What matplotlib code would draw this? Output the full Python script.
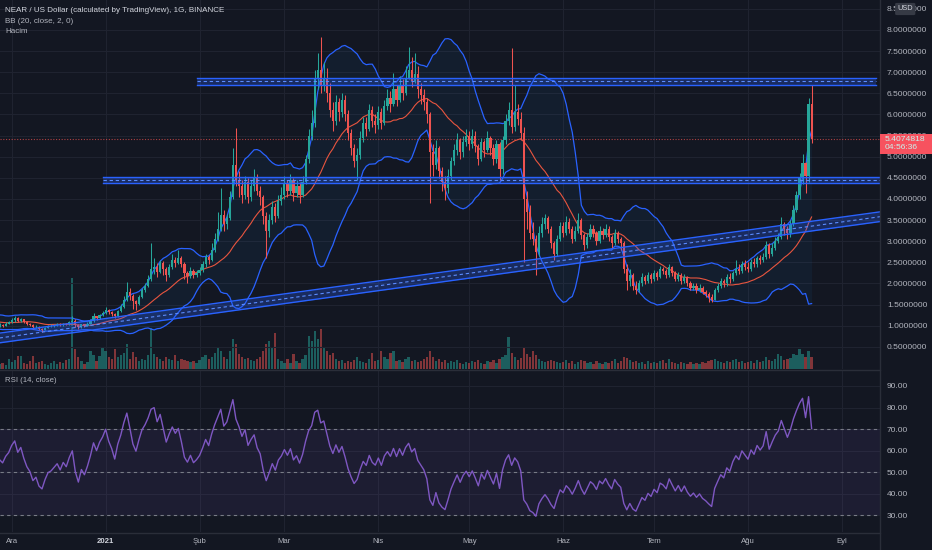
import numpy as np
import pandas as pd
import matplotlib
matplotlib.use("Agg")
import matplotlib.pyplot as plt
from matplotlib.patches import Rectangle, FancyBboxPatch
from matplotlib.lines import Line2D

# NEAR/USD daily candles, 2020-11-27 .. 2021-08-22 (day 0 = 2020-12-01)
start_day = -4
first_open = 1.00
# closes before the visible range, only used to warm up BB / RSI
warmup_close = [1.15, 1.20, 1.12, 1.08, 1.05, 1.10, 1.00, 0.98, 1.02, 1.06,
                1.10, 1.15, 1.22, 1.18, 1.25, 1.12, 0.98, 0.95, 1.00]

close = [
    # Nov
    1.02, 1.00, 1.05, 1.08,
    # Dec
    1.14, 1.18, 1.12, 1.16, 1.10, 1.05, 1.02, 0.96, 0.98, 0.92, 0.90, 0.95, 0.99, 1.00, 1.02, 1.04,
    1.01, 1.05, 1.03, 1.08, 1.12, 1.02, 0.96, 1.03, 1.00, 1.05, 1.12, 1.22, 1.18, 1.25, 1.30,
    # Jan
    1.38, 1.32, 1.28, 1.22, 1.35, 1.45, 1.62, 1.80, 1.70, 1.58, 1.52, 1.68, 1.85, 1.95, 2.10, 2.35,
    2.40, 2.28, 2.48, 2.35, 2.20, 2.38, 2.55, 2.48, 2.60, 2.45, 2.25, 2.18, 2.30, 2.20, 2.25,
    # Feb
    2.32, 2.45, 2.62, 2.55, 2.80, 3.05, 3.30, 3.62, 3.40, 3.55, 4.05, 4.80, 4.45, 4.30, 4.10, 4.40,
    4.05, 4.30, 4.50, 4.20, 4.05, 3.60, 3.25, 3.50, 3.80, 3.60, 3.95, 4.10,
    # Mar
    4.35, 4.20, 4.45, 4.15, 4.30, 4.10, 4.40, 4.95, 5.50, 5.80, 6.85, 7.05, 6.70, 6.85, 6.50, 6.10,
    5.85, 6.30, 6.05, 6.35, 6.00, 5.55, 5.20, 4.90, 5.05, 5.45, 5.80, 5.65, 6.10, 5.85, 5.75,
    # Apr
    6.05, 5.80, 6.20, 6.40, 6.25, 6.60, 6.35, 6.70, 6.50, 6.85, 7.05, 6.80, 6.95, 6.60, 6.45, 6.30,
    6.00, 5.10, 4.80, 5.20, 4.65, 4.40, 4.25, 4.55, 4.90, 5.15, 5.40, 5.10, 5.35, 5.50,
    # May
    5.30, 5.50, 5.25, 4.95, 5.35, 5.15, 5.45, 5.20, 4.95, 5.30, 4.70, 5.40, 5.85, 6.10, 5.70, 6.05,
    5.90, 5.55, 4.00, 3.70, 3.20, 3.05, 2.75, 3.20, 3.40, 3.55, 3.30, 2.95, 2.70, 3.05, 3.35,
    # Jun
    3.20, 3.45, 3.30, 3.05, 3.25, 3.50, 3.15, 2.90, 3.10, 3.30, 3.20, 3.00, 3.25, 3.15, 3.30, 3.10,
    2.95, 3.20, 3.05, 2.95, 2.35, 2.05, 2.20, 1.95, 1.85, 2.00, 2.15, 2.05, 2.20, 2.10,
    # Jul
    2.25, 2.15, 2.35, 2.30, 2.20, 2.40, 2.25, 2.10, 2.20, 2.05, 2.15, 2.00, 1.90, 1.95, 1.85, 1.90,
    1.80, 1.75, 1.68, 1.62, 1.85, 1.95, 2.05, 2.00, 2.15, 2.10, 2.25, 2.35, 2.30, 2.45, 2.40,
    # Aug
    2.35, 2.50, 2.45, 2.60, 2.55, 2.62, 2.90, 2.70, 2.85, 3.00, 3.10, 3.40, 3.30, 3.20, 3.40, 3.75,
    4.10, 4.50, 4.85, 4.55, 6.25, 5.4074818,
]

high = [
    1.06, 1.05, 1.08, 1.12,
    1.19, 1.22, 1.20, 1.19, 1.17, 1.12, 1.07, 1.04, 1.01, 0.99, 0.94, 0.97, 1.01, 1.03, 1.05, 1.07,
    1.06, 1.07, 1.07, 1.12, 1.24, 1.15, 1.05, 1.05, 1.05, 1.08, 1.15, 1.30, 1.24, 1.28, 1.35,
    1.45, 1.40, 1.35, 1.30, 1.38, 1.52, 1.70, 2.04, 1.90, 1.75, 1.62, 1.72, 1.90, 2.02, 2.20, 2.95,
    2.60, 2.48, 2.55, 2.52, 2.38, 2.45, 2.70, 2.62, 2.80, 2.65, 2.50, 2.30, 2.38, 2.35, 2.32,
    2.40, 2.52, 2.70, 2.68, 2.95, 3.20, 3.70, 4.26, 3.75, 3.65, 4.20, 5.20, 5.68, 4.65, 4.45, 4.55,
    4.50, 4.45, 4.70, 4.60, 4.30, 4.10, 3.70, 3.65, 3.95, 3.90, 4.10, 4.28,
    4.55, 4.45, 4.60, 4.50, 4.45, 4.40, 4.55, 5.05, 5.65, 6.10, 7.05, 7.45, 7.83, 7.25, 7.10, 6.75,
    6.30, 6.45, 6.40, 6.50, 6.45, 6.10, 5.65, 5.30, 5.20, 5.60, 5.95, 5.95, 6.25, 6.20, 6.00,
    6.20, 6.15, 6.35, 6.60, 6.55, 6.97, 6.70, 6.90, 6.85, 7.15, 7.60, 7.35, 7.45, 7.15, 6.75, 6.60,
    6.40, 6.05, 5.30, 5.40, 5.25, 4.75, 4.55, 4.70, 5.00, 5.30, 5.55, 5.45, 5.50, 5.65,
    5.60, 5.65, 5.60, 5.30, 5.45, 5.40, 5.60, 5.50, 5.30, 5.40, 5.35, 5.50, 6.00, 6.30, 7.57, 6.70,
    6.25, 6.05, 5.70, 4.20, 3.85, 3.45, 3.15, 3.35, 3.57, 3.65, 3.60, 3.35, 3.00, 3.15, 3.45,
    3.45, 3.60, 3.55, 3.35, 3.35, 3.67, 3.55, 3.20, 3.20, 3.40, 3.38, 3.25, 3.35, 3.32, 3.40, 3.35,
    3.15, 3.30, 3.25, 3.10, 3.00, 2.45, 2.35, 2.25, 2.05, 2.08, 2.25, 2.20, 2.28, 2.25,
    2.32, 2.30, 2.42, 2.40, 2.35, 2.45, 2.42, 2.30, 2.28, 2.25, 2.22, 2.18, 2.05, 2.02, 2.00, 1.98,
    1.95, 1.85, 1.80, 1.75, 1.90, 2.02, 2.12, 2.10, 2.22, 2.25, 2.30, 2.55, 2.45, 2.52, 2.55,
    2.50, 2.58, 2.60, 2.65, 2.68, 2.72, 3.00, 2.95, 2.95, 3.10, 3.20, 3.57, 3.45, 3.35, 3.50, 3.85,
    4.20, 4.62, 5.06, 4.88, 6.39, 6.70,
]

low = [
    0.98, 0.97, 0.99, 1.03,
    1.06, 1.10, 1.09, 1.10, 1.07, 1.02, 0.99, 0.93, 0.94, 0.89, 0.86, 0.89, 0.94, 0.97, 0.98, 1.00,
    0.99, 1.00, 1.01, 1.02, 1.05, 0.98, 0.92, 0.95, 0.98, 0.99, 1.04, 1.10, 1.14, 1.16, 1.22,
    1.28, 1.27, 1.22, 1.18, 1.20, 1.33, 1.42, 1.58, 1.62, 1.40, 1.37, 1.48, 1.65, 1.80, 1.92, 2.05,
    2.22, 2.15, 2.25, 2.20, 2.05, 2.15, 2.35, 2.40, 2.45, 2.38, 2.10, 2.00, 2.12, 2.12, 2.15,
    2.20, 2.28, 2.40, 2.45, 2.52, 2.75, 3.00, 3.25, 3.25, 3.30, 3.50, 4.00, 4.30, 4.05, 3.90, 4.00,
    3.90, 3.95, 4.20, 4.10, 3.85, 3.40, 2.60, 3.10, 3.40, 3.45, 3.55, 3.85,
    4.00, 4.05, 4.10, 3.95, 4.05, 3.90, 4.05, 4.35, 4.85, 5.40, 5.70, 6.60, 6.50, 6.55, 6.30, 5.95,
    5.60, 5.75, 5.85, 5.95, 5.85, 5.40, 5.05, 4.75, 4.45, 4.95, 5.35, 5.50, 5.60, 5.70, 5.55,
    5.65, 5.65, 5.75, 6.10, 6.05, 6.20, 6.20, 6.30, 6.35, 6.45, 6.85, 6.65, 6.75, 6.40, 6.25, 6.10,
    5.80, 3.90, 4.55, 4.70, 4.50, 4.20, 3.97, 4.15, 4.45, 4.80, 5.05, 4.95, 5.00, 5.25,
    5.15, 5.20, 5.10, 4.80, 4.90, 5.00, 5.10, 5.05, 4.80, 4.85, 4.45, 4.60, 5.30, 5.75, 5.55, 5.60,
    5.75, 5.40, 2.50, 3.30, 3.05, 2.90, 2.20, 2.65, 3.10, 3.30, 3.20, 2.85, 2.55, 2.65, 3.00,
    3.10, 3.15, 3.20, 2.95, 3.00, 3.20, 3.05, 2.80, 2.85, 3.05, 3.10, 2.90, 2.95, 3.05, 3.10, 3.00,
    2.85, 2.90, 2.95, 2.80, 2.25, 1.85, 1.95, 1.85, 1.75, 1.80, 1.95, 1.98, 2.00, 2.02,
    2.05, 2.08, 2.12, 2.22, 2.12, 2.15, 2.18, 2.05, 2.05, 1.98, 2.00, 1.95, 1.85, 1.85, 1.78, 1.80,
    1.75, 1.68, 1.56, 1.56, 1.60, 1.80, 1.90, 1.92, 1.95, 2.02, 2.05, 2.20, 2.22, 2.25, 2.32,
    2.28, 2.30, 2.38, 2.40, 2.45, 2.50, 2.58, 2.60, 2.65, 2.80, 2.95, 3.05, 3.15, 3.05, 3.10, 3.35,
    3.70, 4.00, 4.35, 4.15, 4.40, 5.32,
]

volume = [
    5, 6, 4, 10,
    7, 9, 13, 13, 6, 5, 8, 13, 6, 7, 8, 5, 4, 6, 8, 5, 7, 6, 9, 10, 91, 20, 12, 8, 5, 7, 18, 14, 8, 13, 22,
    18, 12, 10, 20, 12, 14, 16, 25, 10, 17, 12, 8, 10, 9, 14, 41, 15, 12, 10, 8, 12, 10, 9, 14, 8, 10,
    9, 8, 7, 8, 6,
    9, 12, 14, 10, 12, 16, 22, 18, 12, 10, 18, 30, 25, 15, 12, 10, 11, 9, 8, 10, 12, 18, 25, 28, 22, 36,
    10, 8,
    6, 10, 6, 15, 8, 6, 10, 14, 33, 28, 38, 30, 40, 22, 18, 14, 16, 10, 8, 9, 6, 8, 7, 9, 12, 8, 7, 6,
    10, 16, 8,
    9, 18, 12, 10, 16, 18, 8, 9, 7, 10, 12, 8, 9, 7, 8, 10, 12, 18, 12, 8, 10, 7, 9, 6, 8, 7, 9, 6, 5, 7,
    6, 8, 7, 9, 6, 5, 8, 7, 9, 6, 10, 12, 14, 32, 16, 12, 9, 11, 22, 15, 12, 18, 14, 10, 8, 7, 8, 9, 8,
    7, 6,
    7, 9, 6, 8, 5, 7, 9, 8, 6, 7, 5, 8, 6, 5, 7, 6, 8, 10, 6, 8, 12, 11, 9, 7, 8, 6, 7, 5, 8, 6,
    7, 6, 8, 9, 6, 10, 7, 6, 5, 7, 6, 5, 7, 5, 6, 5, 7, 6, 8, 9, 10, 8, 7, 6, 8, 7, 9, 10, 7, 8, 6,
    7, 8, 6, 9, 7, 8, 12, 9, 8, 10, 15, 13, 9, 10, 11, 15, 14, 20, 15, 12, 18, 12,
]

month_days = [0, 31, 62, 90, 121, 151, 182, 212, 243, 274]
month_labels = ["Ara", "2021", "Şub", "Mar", "Nis", "May", "Haz", "Tem", "Ağu", "Eyl"]
price_ticks = [0.5, 1.0, 1.5, 2.0, 2.5, 3.0, 3.5, 4.0, 4.5, 5.0, 5.5, 6.0, 6.5, 7.0, 7.5, 8.0, 8.5]
rsi_ticks = [30, 40, 50, 60, 70, 80, 90]

# drawn zones: (start day, low, high)
top_zone = (61.2, 6.70, 6.86)
mid_zone = (30.1, 4.38, 4.52)
# rising channel: (x0, centre0, x1, centre1, half width)
channel = (-4.0, 0.71, 286.6, 3.58, 0.115)
countdown = "04:56:36"

BG = "#131722"
GRID = "#1f2330"
TXT = "#b2b5be"
GREEN = "#26a69a"
RED = "#ef5350"
BLUE = "#2962ff"

plt.rcParams["font.family"] = ["Liberation Sans", "DejaVu Sans"]

c = np.array(close)
o = np.r_[first_open, c[:-1]]
hi = np.maximum(np.array(high), np.maximum(o, c))
lo = np.minimum(np.array(low), np.minimum(o, c))
vol = np.array(volume)
days = np.arange(start_day, start_day + len(c))

# indicators
full = pd.Series(warmup_close + close)
basis = full.rolling(20).mean()
dev = full.rolling(20).std(ddof=0)
bb_up = (basis + 2 * dev).values[len(warmup_close):]
bb_lo = (basis - 2 * dev).values[len(warmup_close):]
bb_mid = basis.values[len(warmup_close):]
delta = full.diff()
gain = delta.clip(lower=0).ewm(alpha=1 / 14, adjust=False).mean()
loss = (-delta.clip(upper=0)).ewm(alpha=1 / 14, adjust=False).mean()
rsi = (100 - 100 / (1 + gain / loss)).values[len(warmup_close):]

W, H = 932, 550
fig = plt.figure(figsize=(W / 100, H / 100), dpi=100, facecolor=BG)
main_rect = [0, 1 - 369 / H, 880 / W, 369 / H]
ax_bg = fig.add_axes(main_rect, facecolor=BG)
ax = fig.add_axes(main_rect, sharex=ax_bg)
ax.patch.set_visible(False)
ax_rsi = fig.add_axes([0, 1 - 532 / H, 880 / W, 162 / H], facecolor=BG, sharex=ax_bg)

xmin, xmax = -11.7 / 3.03, (880 - 11.7) / 3.03
ax_bg.set_xlim(xmin, xmax)
ax.set_ylim(-0.024, 8.708)
ax_bg.set_ylim(0, vol.max() * 369 / 91)
ax_rsi.set_ylim(22.25, 97.4)

for a in (ax_bg, ax, ax_rsi):
    for s in a.spines.values():
        s.set_visible(False)
    a.tick_params(length=0)
ax_bg.set_yticks([])
ax_bg.tick_params(labelbottom=False)
ax.tick_params(labelbottom=False)

# grid
for dd in month_days:
    ax_bg.axvline(dd, color=GRID, lw=0.8, zorder=0)
    ax_rsi.axvline(dd, color=GRID, lw=0.8, zorder=0)
for p in price_ticks:
    ax.axhline(p, color=GRID, lw=0.8, zorder=0)
for r in rsi_ticks:
    ax_rsi.axhline(r, color=GRID, lw=0.8, zorder=0)

# volume
vol_col = np.where(c >= o, GREEN, RED)
ax_bg.bar(days, vol, width=0.75, color=vol_col, alpha=0.5, linewidth=0, zorder=2)

# bollinger bands
ax.fill_between(days, bb_lo, bb_up, color="#2196f3", alpha=0.06, lw=0, zorder=1)
ax.plot(days, bb_up, color=BLUE, lw=0.9, zorder=2)
ax.plot(days, bb_lo, color=BLUE, lw=0.9, zorder=2)
ax.plot(days, bb_mid, color="#e8553f", lw=0.8, zorder=2)

# candles
cc = np.where(c >= o, GREEN, RED)
ax.vlines(days, lo, hi, colors=cc, lw=0.75, zorder=3)
ax.bar(days, np.maximum(np.abs(c - o), 0.015), bottom=np.minimum(o, c), width=0.72,
       color=cc, linewidth=0, zorder=4)


def band(x0, x1, lo0, hi0, lo1, hi1):
    ax.fill_between([x0, x1], [lo0, lo1], [hi0, hi1], color=BLUE, alpha=0.28, lw=0, zorder=5)
    ax.plot([x0, x1], [lo0, lo1], color=BLUE, lw=1.0, zorder=6)
    ax.plot([x0, x1], [hi0, hi1], color=BLUE, lw=1.0, zorder=6)
    ax.plot([x0, x1], [(lo0 + hi0) / 2, (lo1 + hi1) / 2], color="#5b8cff", lw=0.8,
            dashes=(3, 2.5), zorder=6)


band(top_zone[0], xmax - 1.3, top_zone[1], top_zone[2], top_zone[1], top_zone[2])
band(mid_zone[0], xmax, mid_zone[1], mid_zone[2], mid_zone[1], mid_zone[2])
x0, m0, x1, m1, hw = channel
band(x0, x1, m0 - hw, m0 + hw, m1 - hw, m1 + hw)

# last price line
last = c[-1]
ax.axhline(last, color=RED, lw=0.8, ls=(0, (1, 1.5)), alpha=0.7, zorder=2)

# price axis
ax.yaxis.tick_right()
ax.set_yticks(price_ticks)
ax.set_yticklabels([f"{p:.7f}" for p in price_ticks])
ax.tick_params(axis="y", pad=5, labelsize=6.1, labelcolor=TXT)

# RSI
ax_rsi.axhspan(30, 70, color="#7e57c2", alpha=0.1, lw=0, zorder=0)
for lvl in (70, 50, 30):
    ax_rsi.axhline(lvl, color="#787b86", lw=0.8, dashes=(3, 3), zorder=1)
ax_rsi.plot(days, rsi, color="#7e57c2", lw=1.0, zorder=3)
ax_rsi.yaxis.tick_right()
ax_rsi.set_yticks(rsi_ticks)
ax_rsi.set_yticklabels([f"{r:.2f}" for r in rsi_ticks])
ax_rsi.tick_params(axis="y", pad=5, labelsize=6.0, labelcolor=TXT)
ax_rsi.set_xticks(month_days)
ax_rsi.set_xticklabels(month_labels)
ax_rsi.tick_params(axis="x", pad=4.5, labelsize=5.6, labelcolor=TXT)
for t in ax_rsi.get_xticklabels():
    if t.get_text() == "2021":
        t.set_fontweight("bold")
        t.set_color("#d1d4dc")

# separators
sep = "#2a2e39"
fig.add_artist(Line2D([880 / W, 880 / W], [0, 1], color=sep, lw=1))
fig.add_artist(Line2D([0, 880 / W], [1 - 369.5 / H] * 2, color=sep, lw=1))
fig.add_artist(Line2D([0, 880 / W], [1 - 532.5 / H] * 2, color=sep, lw=1))

# last price label on the axis
fig.canvas.draw()
y_px = ax.transData.transform((0, last))[1]
y_fig = y_px / (H)
box_h = 20 / H
fig.add_artist(Rectangle((879.5 / W, y_fig - 14.5 / H), 52.5 / W, box_h,
                         color="#f7525f", lw=0, zorder=10))
fig.text(885 / W, y_fig - 0.5 / H, f"{last:.7f}", color="#c8f3ee", fontsize=6.1,
         va="center", ha="left", zorder=11)
fig.text(885 / W, y_fig - 8.5 / H, countdown, color="#c8f3ee", fontsize=6.1,
         va="center", ha="left", zorder=11)

# USD badge
fig.add_artist(FancyBboxPatch((897 / W, 1 - 14 / H), 16.5 / W, 10 / H,
                              boxstyle="round,pad=0.002", color="#363a45", lw=0, zorder=10))
fig.text(905.3 / W, 1 - 9 / H, "USD", color="#d1d4dc", fontsize=5.3, ha="center",
         va="center", zorder=11)

# legends
fig.text(5 / W, 1 - 10.3 / H, "NEAR / US Dollar (calculated by TradingView), 1G, BINANCE",
         color="#d1d4dc", fontsize=5.8, va="center")
fig.text(5 / W, 1 - 21.3 / H, "BB (20, close, 2, 0)", color=TXT, fontsize=5.8, va="center")
fig.text(5 / W, 1 - 31.7 / H, "Hacim", color=TXT, fontsize=5.8, va="center")
fig.text(5 / W, 1 - 380 / H, "RSI (14, close)", color=TXT, fontsize=5.6, va="center")

fig.savefig("out.png", dpi=100, facecolor=BG)
